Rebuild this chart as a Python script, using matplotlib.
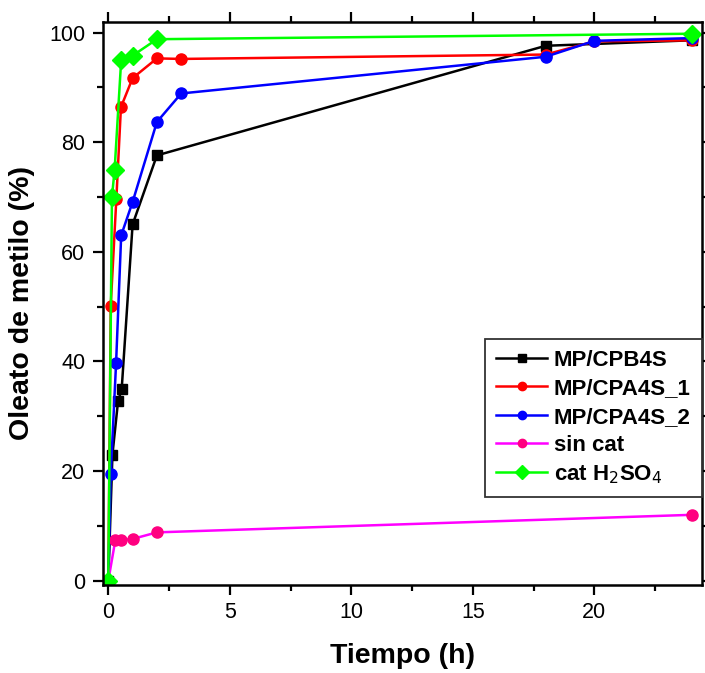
import matplotlib
matplotlib.use("Agg")
import matplotlib.pyplot as plt
from matplotlib.ticker import MultipleLocator

plt.rcParams['font.family'] = ['Liberation Sans', 'DejaVu Sans']

# Reaction time (h) and methyl oleate conversion (%) for each catalyst
t_cpb4s = [0, 0.17, 0.4, 0.55, 1, 2, 18, 24]
y_cpb4s = [0, 23.0, 32.7, 34.9, 65.0, 77.6, 97.6, 98.6]

t_cpa4s_1 = [0, 0.1, 0.33, 0.52, 1, 2, 3, 18, 20, 24]
y_cpa4s_1 = [0, 50.2, 69.6, 86.4, 91.7, 95.3, 95.2, 96.0, 98.4, 98.6]

t_cpa4s_2 = [0, 0.1, 0.32, 0.53, 1, 2, 3, 18, 20, 24]
y_cpa4s_2 = [0, 19.4, 39.7, 63.0, 69.1, 83.7, 88.9, 95.6, 98.5, 99.0]

t_sincat = [0, 0.29, 0.53, 1, 2, 24]
y_sincat = [0, 7.4, 7.4, 7.6, 8.8, 12.0]

t_h2so4 = [0, 0.15, 0.26, 0.53, 1, 2, 24]
y_h2so4 = [0, 70.0, 75.0, 95.0, 95.8, 98.8, 99.8]

labels = ['MP/CPB4S', 'MP/CPA4S_1', 'MP/CPA4S_2', 'sin cat', r'cat H$_2$SO$_4$']

fig = plt.figure(figsize=(7.05, 6.73), dpi=100)
ax = fig.add_axes([0.1457, 0.1308, 0.85, 0.837])

lw = 1.8
ax.plot(t_cpb4s, y_cpb4s, color='black', marker='s', ms=7, lw=lw, label=labels[0])
ax.plot(t_cpa4s_1, y_cpa4s_1, color='#ff0000', marker='o', ms=8, lw=lw, label=labels[1])
ax.plot(t_cpa4s_2, y_cpa4s_2, color='#0000ff', marker='o', ms=8, lw=lw, label=labels[2])
ax.plot(t_sincat, y_sincat, color='#ff00ff', marker='o', ms=8, lw=lw,
        mfc='#ff0080', mec='#ff0080', label=labels[3])
ax.plot(t_h2so4, y_h2so4, color='#00ff00', marker='D', ms=9.5, lw=lw, label=labels[4])

ax.set_xlim(-0.23, 24.43)
ax.set_ylim(-0.8, 102)

ax.xaxis.set_major_locator(MultipleLocator(5))
ax.xaxis.set_minor_locator(MultipleLocator(2.5))
ax.yaxis.set_major_locator(MultipleLocator(20))
ax.yaxis.set_minor_locator(MultipleLocator(10))

ax.tick_params(which='both', direction='out', top=True, right=True,
               width=1.6, labelsize=15.5, pad=5)
ax.tick_params(which='major', length=7.5)
ax.tick_params(which='minor', length=4)

for s in ax.spines.values():
    s.set_linewidth(1.8)

ax.set_xlabel('Tiempo (h)', fontsize=20.5, fontweight='bold', labelpad=14)
ax.set_ylabel('Oleato de metilo (%)', fontsize=20.5, fontweight='bold', labelpad=10)

leg = ax.legend(loc='upper right', bbox_to_anchor=(1.0, 0.437),
                prop={'weight': 'bold', 'size': 16}, frameon=True, fancybox=False,
                edgecolor='#333333', framealpha=1, markerscale=0.75,
                handlelength=2.3, handletextpad=0.3, labelspacing=0.33,
                borderpad=0.5, borderaxespad=0)
leg.get_frame().set_linewidth(1.3)

fig.savefig('out.png', dpi=100)
